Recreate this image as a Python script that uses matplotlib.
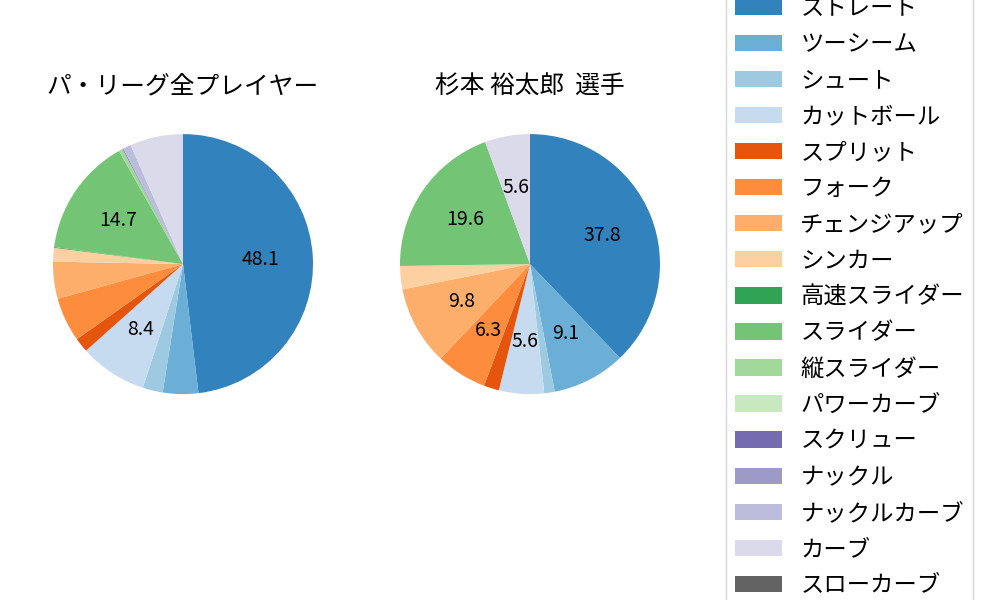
import matplotlib
matplotlib.use("Agg")
import matplotlib.pyplot as plt
from matplotlib.patches import Patch

plt.rcParams['font.family'] = ['Noto Sans CJK JP', 'DejaVu Sans']

# Pitch types (legend order)
PITCH_TYPES = [
    "ストレート", "ツーシーム", "シュート", "カットボール", "スプリット",
    "フォーク", "チェンジアップ", "シンカー", "高速スライダー", "スライダー",
    "縦スライダー", "パワーカーブ", "スクリュー", "ナックル", "ナックルカーブ",
    "カーブ", "スローカーブ",
]

# Share of pitches (%)
LEAGUE_SHARE = [48.1, 4.4, 2.5, 8.4, 1.8, 5.5, 4.6, 1.7, 0.1, 14.7,
                0.5, 0.0, 0.1, 0.0, 1.0, 6.6, 0.0]
PLAYER_SHARE = [37.8, 9.1, 1.3, 5.6, 1.9, 6.3, 9.8, 2.9, 0.0, 19.6,
                0.0, 0.0, 0.0, 0.0, 0.0, 5.6, 0.0]

TITLES = ["パ・リーグ全プレイヤー", "杉本 裕太郎  選手"]

colors = [plt.cm.tab20c(i) for i in range(len(PITCH_TYPES))]


def make_autopct(threshold):
    def fmt(p):
        return f"{p:.1f}" if p >= threshold else ""
    return fmt


fig = plt.figure(figsize=(10, 6), dpi=100)
ax_left = fig.add_axes([0.0205, 0.289, 0.325, 0.5417])
ax_right = fig.add_axes([0.3675, 0.289, 0.325, 0.5417])

for ax, share, title, thr in [
    (ax_left, LEAGUE_SHARE, TITLES[0], 8.0),
    (ax_right, PLAYER_SHARE, TITLES[1], 5.0),
]:
    ax.pie(share, colors=colors, startangle=90, counterclock=False,
           autopct=make_autopct(thr), pctdistance=0.6,
           textprops={"fontsize": 14})
    ax.set_title(title, fontsize=17.8)

handles = [Patch(facecolor=c, label=n) for c, n in zip(colors, PITCH_TYPES)]
fig.legend(handles=handles, loc="center left", bbox_to_anchor=(0.714, 0.505),
           fontsize=16.8, frameon=True, handlelength=2.0, labelspacing=0.56)

fig.savefig("out.png", dpi=100)
